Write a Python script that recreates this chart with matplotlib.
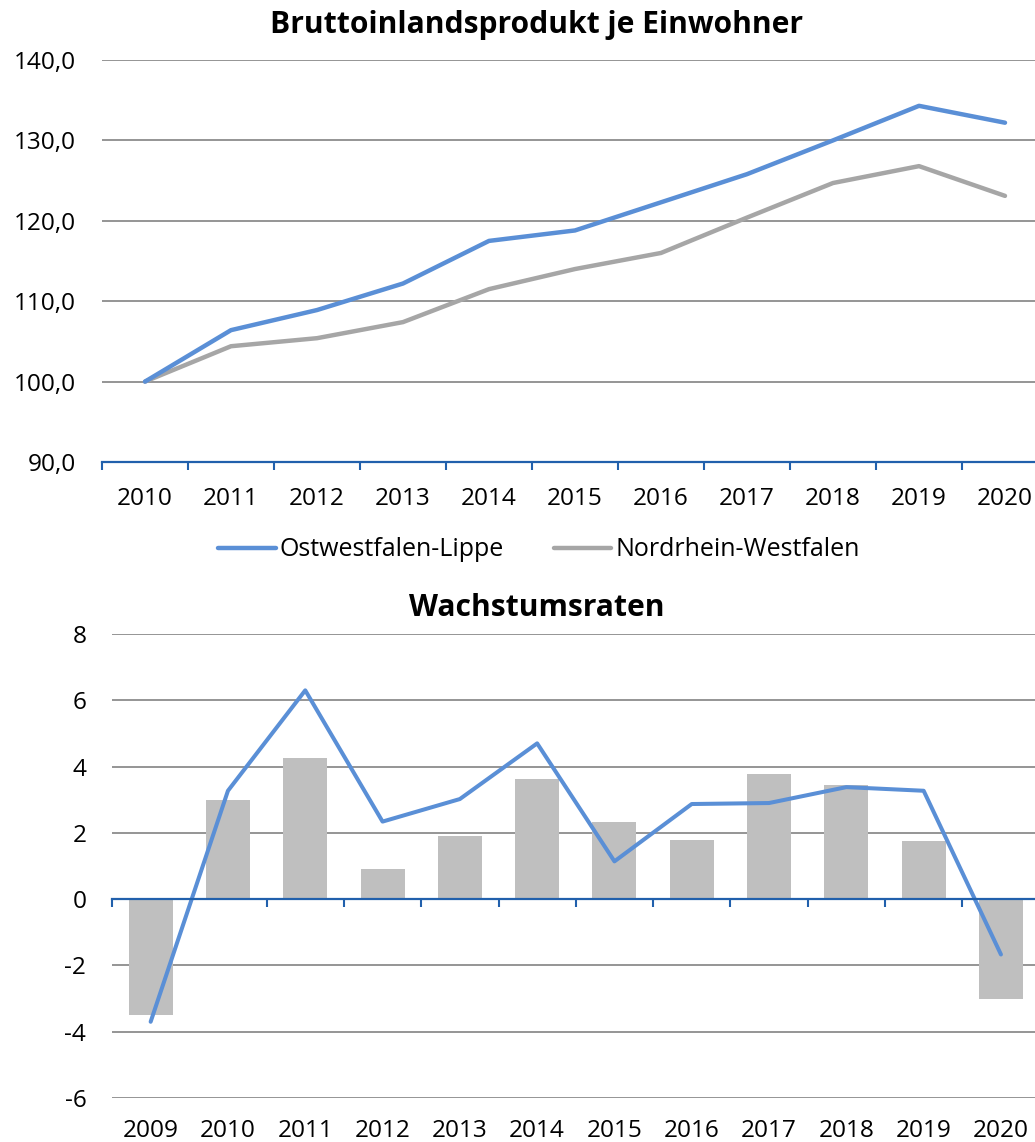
import matplotlib
matplotlib.use("Agg")
import matplotlib.pyplot as plt
import numpy as np
from matplotlib.ticker import FixedLocator, FuncFormatter

plt.rcParams['font.family'] = ['Open Sans', 'DejaVu Sans']
plt.rcParams['axes.unicode_minus'] = False

# ---- data ----
years_top = ["2010", "2011", "2012", "2013", "2014", "2015", "2016", "2017", "2018", "2019", "2020"]
owl_index = [100.0, 106.4, 108.9, 112.2, 117.5, 118.8, 122.3, 125.8, 130.0, 134.3, 132.2]
nrw_index = [100.0, 104.4, 105.4, 107.4, 111.5, 114.0, 116.0, 120.4, 124.7, 126.8, 123.1]

years_bottom = ["2009", "2010", "2011", "2012", "2013", "2014", "2015", "2016", "2017", "2018", "2019", "2020"]
nrw_growth = [-3.5, 3.0, 4.25, 0.92, 1.9, 3.63, 2.33, 1.78, 3.77, 3.45, 1.75, -3.0]
owl_growth = [-3.7, 3.27, 6.3, 2.34, 3.02, 4.7, 1.14, 2.87, 2.9, 3.38, 3.27, -1.67]

series_names = ["Ostwestfalen-Lippe", "Nordrhein-Westfalen"]
title_top = "Bruttoinlandsprodukt je Einwohner"
title_bottom = "Wachstumsraten"

# ---- styles ----
BLUE = "#5A8FD6"
GRAY_LINE = "#A6A6A6"
BAR = "#BFBFBF"
GRID = "#8C8C8C"
AXIS = "#2160AC"
FS = 17.6
W, H = 1035, 1142

fig = plt.figure(figsize=(W / 100, H / 100), dpi=100)

# ---------- top chart ----------
ax1 = fig.add_axes([102 / W, 1 - 462 / H, 946 / W, 402 / H])
x1 = np.arange(len(years_top))
ax1.plot(x1, owl_index, color=BLUE, lw=3.2, solid_capstyle='round', solid_joinstyle='round',
         label=series_names[0], zorder=3)
ax1.plot(x1, nrw_index, color=GRAY_LINE, lw=3.2, solid_capstyle='round', solid_joinstyle='round',
         label=series_names[1], zorder=2)
ax1.set_xlim(-0.5, len(years_top) - 0.5)
ax1.set_ylim(90, 140)
ax1.set_yticks(np.arange(90, 141, 10))
ax1.yaxis.set_major_formatter(FuncFormatter(lambda v, p: f"{v:.1f}".replace('.', ',')))
ax1.yaxis.grid(True, color=GRID, lw=1.3)
ax1.set_axisbelow(True)
ax1.tick_params(axis='y', length=0, pad=18.5, labelsize=FS, colors='black')
ax1.set_xticks(x1)
ax1.set_xticklabels(years_top)
ax1.xaxis.set_minor_locator(FixedLocator(np.arange(-0.5, len(years_top), 1.0)))
ax1.tick_params(axis='x', which='major', length=0, pad=18, labelsize=FS)
ax1.tick_params(axis='x', which='minor', length=5.5, width=1.5, color=AXIS, direction='out')
for s in ['top', 'right', 'left']:
    ax1.spines[s].set_visible(False)
ax1.spines['bottom'].set_color(AXIS)
ax1.spines['bottom'].set_linewidth(1.6)
ax1.spines['bottom'].set_zorder(4)

fig.text(537 / W, 1 - 25 / H, title_top, ha='center', va='center', fontsize=21.6, fontweight='bold')

h, l = ax1.get_legend_handles_labels()
fig.legend(h, l, loc='center', bbox_to_anchor=(539 / W, 1 - 550 / H), ncol=2, frameon=False,
           fontsize=18, handlelength=2.3, handletextpad=0.15, columnspacing=2.0)

# ---------- bottom chart ----------
ax2 = fig.add_axes([112 / W, 1 - 1098 / H, 927.6 / W, 464 / H])
x2 = np.arange(len(years_bottom))
ax2.bar(x2, nrw_growth, width=0.57, color=BAR, zorder=2)
ax2.plot(x2, owl_growth, color=BLUE, lw=2.9, solid_capstyle='round', solid_joinstyle='round', zorder=3)
ax2.set_xlim(-0.5, len(years_bottom) - 0.5)
ax2.set_ylim(-6, 8)
ax2.set_yticks(np.arange(-6, 9, 2))
ax2.yaxis.set_major_formatter(FuncFormatter(lambda v, p: f"{int(round(v))}"))
ax2.yaxis.grid(True, color=GRID, lw=1.3)
ax2.set_axisbelow(True)
ax2.tick_params(axis='y', length=0, pad=18.5, labelsize=FS)
for s in ['top', 'right', 'left']:
    ax2.spines[s].set_visible(False)
ax2.spines['bottom'].set_position(('data', 0))
ax2.spines['bottom'].set_color(AXIS)
ax2.spines['bottom'].set_linewidth(1.6)
ax2.spines['bottom'].set_zorder(4)
bounds = [b for b in np.arange(-0.5, len(years_bottom), 1.0) if b != 0.5]
ax2.set_xticks(bounds)
ax2.set_xticklabels([])
ax2.tick_params(axis='x', length=5.5, width=1.5, color=AXIS, direction='out')

sec = ax2.secondary_xaxis('bottom')
sec.set_xticks(x2)
sec.set_xticklabels(years_bottom)
sec.tick_params(length=0, pad=15, labelsize=FS)
sec.spines['bottom'].set_visible(False)

fig.text(537 / W, 1 - 608 / H, title_bottom, ha='center', va='center', fontsize=21.6, fontweight='bold')

fig.savefig("out.png", dpi=100)
